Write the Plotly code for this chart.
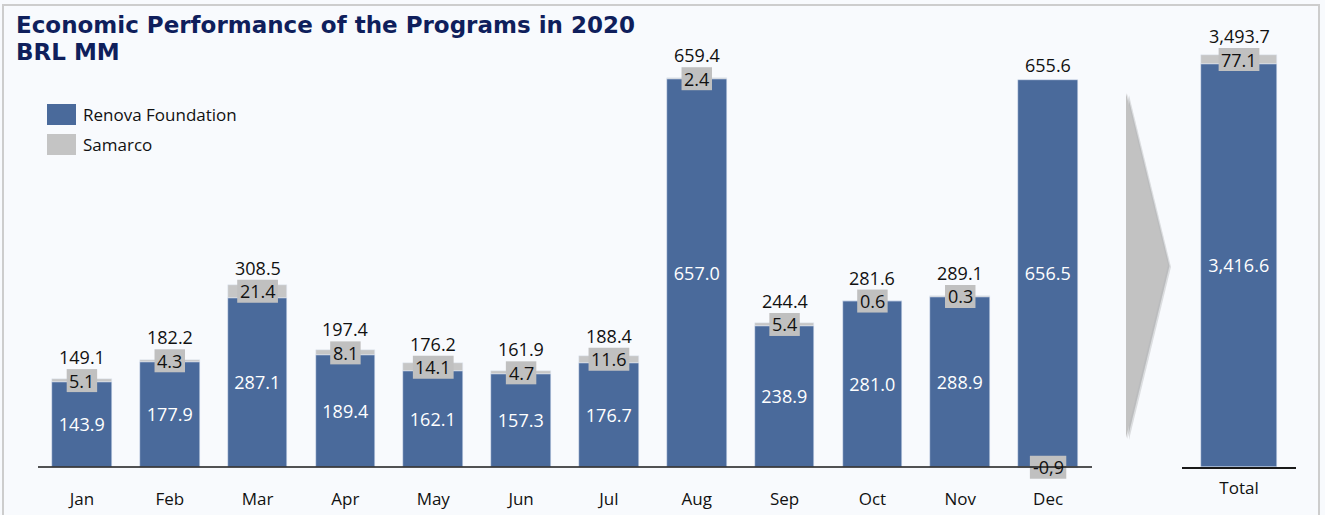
import plotly.graph_objects as go

# ---------------- data ----------------
months = ["Jan", "Feb", "Mar", "Apr", "May", "Jun", "Jul", "Aug", "Sep", "Oct", "Nov", "Dec"]
renova = [143.9, 177.9, 287.1, 189.4, 162.1, 157.3, 176.7, 657.0, 238.9, 281.0, 288.9, 656.5]
samarco = [5.1, 4.3, 21.4, 8.1, 14.1, 4.7, 11.6, 2.4, 5.4, 0.6, 0.3, -0.9]
month_totals = [149.1, 182.2, 308.5, 197.4, 176.2, 161.9, 188.4, 659.4, 244.4, 281.6, 289.1, 655.6]
samarco_text_override = {"Dec": "-0,9"}

total_category = ["Total"]
total_renova = [3416.6]
total_samarco = [77.1]
total_total = [3493.7]

# ---------------- style ----------------
W, H = 1325, 515
BLUE = "#4a6a9b"
GRAY = "#c6c6c6"
BOX = "#c0c0c0"
BG = "#f8fafd"
NAVY = "#0f1f5c"
FONT = "Open Sans"
FS = 17      # axis / legend text
NFS = 18     # number labels
BOX_HALF_H = 11.5


def px_x(p):
    return p / W


def px_y(p):
    return 1 - p / H


BASE = 467           # pixel row of value 0
MAIN_BOTTOM = 482    # pixel bottom of main plot area (below zero, room for negative label)
TOP = 20
main_scale = 389 / 659.4   # px per unit
tot_scale = 412 / 3493.7

fig = go.Figure()

fig.add_trace(go.Bar(
    x=months, y=renova, name="Renova Foundation", marker_color=BLUE,
    width=0.68, xaxis="x", yaxis="y", showlegend=False,
    texttemplate="%{y:,.1f}", textposition="inside", insidetextanchor="middle",
    textfont=dict(color="white", size=NFS, family=FONT), textangle=0,
))
fig.add_trace(go.Bar(
    x=months, y=samarco, name="Samarco", marker_color=GRAY,
    width=0.68, xaxis="x", yaxis="y", showlegend=False, textposition="none",
))
fig.add_trace(go.Bar(
    x=total_category, y=total_renova, name="Renova Foundation", marker_color=BLUE,
    width=0.675, xaxis="x2", yaxis="y2", showlegend=False,
    texttemplate="%{y:,.1f}", textposition="inside", insidetextanchor="middle",
    textfont=dict(color="white", size=NFS, family=FONT), textangle=0,
))
fig.add_trace(go.Bar(
    x=total_category, y=total_samarco, name="Samarco", marker_color=GRAY,
    width=0.675, xaxis="x2", yaxis="y2", showlegend=False, textposition="none",
))

annotations = []
shapes = []


def text_width(s):
    w = 0
    for ch in s:
        if ch.isdigit():
            w += 0.572 * NFS
        elif ch in ".,":
            w += 0.27 * NFS
        elif ch == "-":
            w += 0.33 * NFS
        else:
            w += 0.5 * NFS
    return w


def add_labels(cats, ren, sam, tot, xref, yref, overrides):
    for c, r, s, t in zip(cats, ren, sam, tot):
        txt = overrides.get(c, f"{s:,.1f}")
        yc = r + s / 2 if s >= 0 else s / 2
        half = text_width(txt) / 2 + 2.5
        shapes.append(dict(
            type="rect", xref=xref, yref=yref, xsizemode="pixel", ysizemode="pixel",
            xanchor=c, yanchor=yc, x0=-half, x1=half, y0=-BOX_HALF_H, y1=BOX_HALF_H,
            fillcolor=BOX, line=dict(width=0), layer="above",
        ))
        annotations.append(dict(
            x=c, y=yc, xref=xref, yref=yref, text=txt, showarrow=False,
            font=dict(size=NFS, family=FONT, color="#111"), yanchor="middle",
        ))
        if s >= 0:
            annotations.append(dict(
                x=c, y=yc, xref=xref, yref=yref, text=f"{t:,.1f}", showarrow=False,
                font=dict(size=NFS, family=FONT, color="#111"), yanchor="middle",
                yshift=BOX_HALF_H + 12,
            ))
        else:
            annotations.append(dict(
                x=c, y=r, xref=xref, yref=yref, text=f"{t:,.1f}", showarrow=False,
                font=dict(size=NFS, family=FONT, color="#111"), yanchor="middle", yshift=15,
            ))


add_labels(months, renova, samarco, month_totals, "x", "y", samarco_text_override)
add_labels(total_category, total_renova, total_samarco, total_total, "x2", "y2", {})

# title (two lines)
for txt, ytop in [("Economic Performance of the Programs in 2020", 10), ("BRL MM", 37)]:
    annotations.append(dict(
        x=px_x(14), y=px_y(ytop), xref="paper", yref="paper", xanchor="left", yanchor="top",
        text=txt, showarrow=False, align="left",
        font=dict(family="DejaVu Sans", size=23, color=NAVY, weight="bold"),
    ))

# legend (manual)
for i, (lab, col) in enumerate([("Renova Foundation", BLUE), ("Samarco", "#c4c4c4")]):
    y0 = 104 + 30 * i
    shapes.append(dict(type="rect", xref="paper", yref="paper",
                       x0=px_x(47), x1=px_x(76), y0=px_y(y0), y1=px_y(y0 + 21),
                       fillcolor=col, line=dict(width=0)))
    annotations.append(dict(
        x=px_x(81), y=px_y(y0 + 10.5), xref="paper", yref="paper", xanchor="left", yanchor="middle",
        text=lab, showarrow=False, font=dict(size=FS, family=FONT, color="#111"),
    ))


# arrow wedge with soft shadow
def wedge(dx, dy):
    pts = [(1126 + dx, 93 + dy), (1168 + dx, 265 + dy), (1126 + dx, 438 + dy)]
    return "M " + " L ".join(f"{px_x(a):.5f},{px_y(b):.5f}" for a, b in pts) + " Z"


shapes.append(dict(type="path", xref="paper", yref="paper", path=wedge(3, 2),
                   fillcolor="rgba(90,90,90,0.18)", line=dict(width=0)))
shapes.append(dict(type="path", xref="paper", yref="paper", path=wedge(1.5, 1),
                   fillcolor="rgba(90,90,90,0.25)", line=dict(width=0)))
shapes.append(dict(type="path", xref="paper", yref="paper", path=wedge(0, 0),
                   fillcolor="#c2c2c2", line=dict(width=0)))

# baseline (zero line) of the monthly panel
shapes.append(dict(type="line", xref="x domain", yref="y", x0=0, x1=1, y0=0, y1=0,
                   line=dict(color="#1a1a1a", width=1.5), layer="above"))

# frame
shapes.append(dict(type="rect", xref="paper", yref="paper",
                   x0=px_x(3), x1=px_x(1319), y0=-0.05, y1=px_y(5),
                   fillcolor="rgba(0,0,0,0)", line=dict(color="#cdcdcd", width=2)))

neg = (MAIN_BOTTOM - BASE) / main_scale
tick_common = dict(
    showgrid=False, zeroline=False,
    ticks="outside", tickcolor="rgba(0,0,0,0)", tickfont=dict(size=FS, family=FONT, color="#111"),
    fixedrange=True,
)

fig.update_layout(
    width=W, height=H, margin=dict(l=0, r=0, t=0, b=0),
    paper_bgcolor=BG, plot_bgcolor=BG, barmode="relative", bargap=0,
    showlegend=False,
    xaxis=dict(domain=[px_x(38), px_x(1092)], range=[-0.5, 11.5], anchor="y",
               showline=False, ticklen=2, **tick_common),
    yaxis=dict(domain=[(H - MAIN_BOTTOM) / H, (H - TOP) / H], range=[-neg, (BASE - TOP) / main_scale],
               visible=False, fixedrange=True),
    xaxis2=dict(domain=[px_x(1182), px_x(1296)], range=[-0.5, 0.5], anchor="y2",
                showline=True, linecolor="#1a1a1a", linewidth=1.5, ticklen=5, **tick_common),
    yaxis2=dict(domain=[(H - BASE) / H, (H - TOP) / H], range=[0, (BASE - TOP) / tot_scale],
                visible=False, anchor="x2", fixedrange=True),
    annotations=annotations, shapes=shapes,
    font=dict(family=FONT),
)

fig.write_html("out.html")
